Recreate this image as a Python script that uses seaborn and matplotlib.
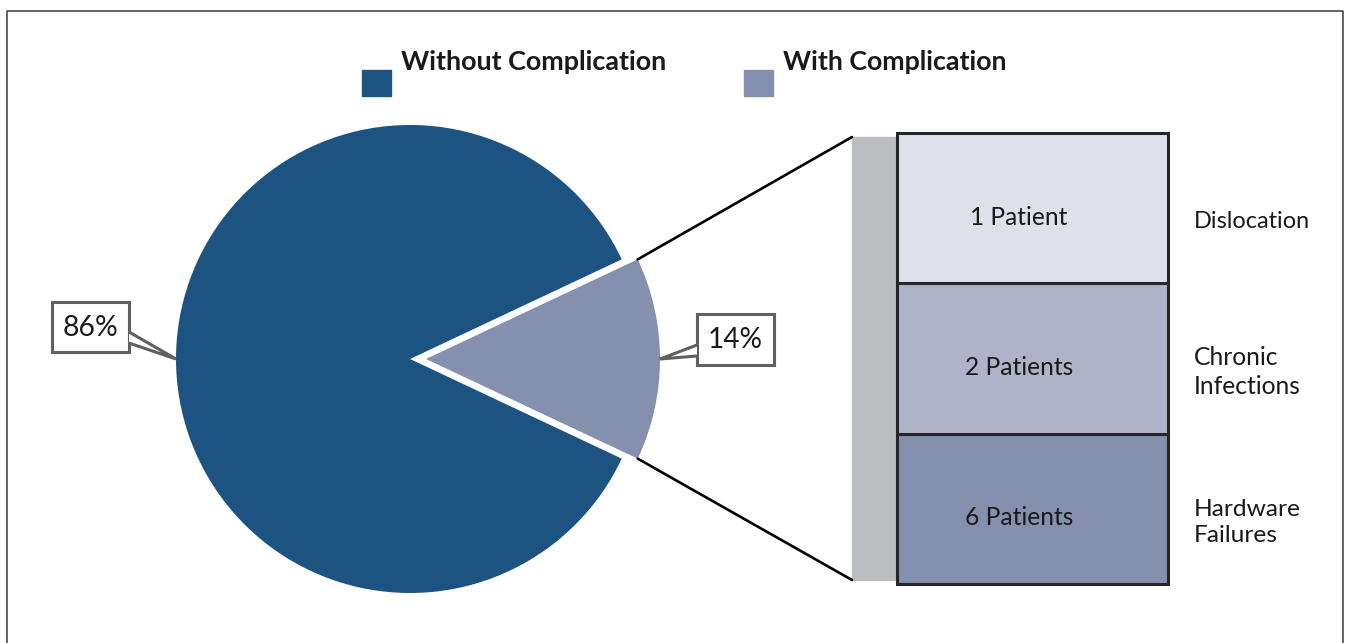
import numpy as np
import pandas as pd
import seaborn as sns
import matplotlib
matplotlib.use("Agg")
import matplotlib.pyplot as plt
from matplotlib.patches import Rectangle, Polygon

# ---------------- data ----------------
pie_labels = ["Without Complication", "With Complication"]
pie_values = [86, 14]
pie_pct_labels = ["86%", "14%"]
comp_types = ["Hardware\nFailures", "Chronic\nInfections", "Dislocation"]
comp_counts = [6, 2, 1]
comp_count_labels = ["6 Patients", "2 Patients", "1 Patient"]

# ---------------- style ----------------
sns.set_theme(style="white")
plt.rcParams['font.family'] = ['Lato', 'DejaVu Sans']
pie_colors = ["#1c5380", "#8490ae"]
comp_colors = ["#8490ae", "#aeb3c8", "#dee1e9"]
TXT = "#1a1a1a"

W, H = 1350, 643
fig = plt.figure(figsize=(13.5, 6.43), dpi=100)
ax = fig.add_axes([0, 0, 1, 1])

cx, cy, R = 410, 359, 234
wedges, _ = ax.pie(pie_values, colors=pie_colors, startangle=25.2,
                   explode=[0, 16], radius=R, center=(cx, cy),
                   wedgeprops=dict(linewidth=0))
ax.set_aspect('auto')
ax.set_xlim(0, W)
ax.set_ylim(H, 0)
ax.axis('off')

renderer = fig.canvas.get_renderer()

def fit(t, target):
    w = t.get_window_extent(renderer=renderer).width
    t.set_fontsize(t.get_fontsize() * target / w)

# frame
ax.plot([7, 7, 1343, 1343], [H + 5, 11, 11, H + 5], color="#3a3a3a", lw=1.1, clip_on=False)

# legend
leg_x = [362, 744]
for lab, col, x0 in zip(pie_labels, pie_colors, leg_x):
    ax.add_patch(Rectangle((x0, 70), 29, 26, color=col))
    t = ax.text(x0 + 39, 70, lab, fontsize=18, fontweight='bold', color=TXT,
                ha='left', va='baseline')
    fit(t, 267 if lab.startswith("Without") else 225)

# wedge geometry helpers
def wpt(w, ang):
    a = np.deg2rad(ang)
    return w.center[0] + w.r * np.cos(a), w.center[1] + w.r * np.sin(a)

big, small = wedges
big_tip = wpt(big, (big.theta1 + big.theta2) / 2)
small_tip = wpt(small, (small.theta1 + small.theta2) / 2)
small_top = wpt(small, small.theta1)
small_bot = wpt(small, small.theta2)

# callouts
EC = "#606060"
def callout(box, p_top, p_bot, tip, label, width):
    x0, y0, bw, bh = box
    ax.add_patch(Rectangle((x0, y0), bw, bh, fc='white', ec=EC, lw=2.2, zorder=5))
    ax.add_patch(Polygon([p_top, tip, p_bot], closed=False, fc='white', ec=EC,
                         lw=2.2, zorder=6, joinstyle='miter'))
    t = ax.text(x0 + bw / 2, y0 + bh / 2 + 1, label, fontsize=18, color=TXT,
                ha='center', va='center', zorder=7)
    fit(t, width)

callout((52, 302, 77, 50), (129, 332), (129, 343), big_tip, pie_pct_labels[0], 56)
callout((697, 314, 77, 51), (697, 345), (697, 356), small_tip, pie_pct_labels[1], 55)

# grey side panel and connector lines
ax.add_patch(Rectangle((852, 137), 44, 443, color="#bcbdc0", zorder=1))
ax.plot([small_top[0], 852], [small_top[1], 137], color="black", lw=1.9)
ax.plot([small_bot[0], 852], [small_bot[1], 580], color="black", lw=1.9)

# stacked breakdown bar (equal-height slots)
bax = fig.add_axes([897 / W, 1 - 584 / H, 271 / W, 451 / H])
slots = [1] * len(comp_counts)
bottoms = np.concatenate([[0], np.cumsum(slots)[:-1]])
bax.bar([0] * len(slots), slots, bottom=bottoms, width=1, color=comp_colors,
        edgecolor="#262626", linewidth=2.2, clip_on=False)
bax.set_xlim(-0.5, 0.5)
bax.set_ylim(0, sum(slots))
bax.axis('off')

for b, s, cl, ty in zip(bottoms, slots, comp_count_labels, comp_types):
    t = bax.text(-0.05, b + s / 2 - 0.06, cl, ha='center', va='center', fontsize=15, color=TXT)
    fit(t, 98 if cl == "1 Patient" else 109)
    t2 = bax.text(0.5 + 26 / 271, b + s / 2 - 0.09, ty, ha='left', va='center',
                  fontsize=15, color=TXT, linespacing=1.3)
    fit(t2, 116 if ty == "Dislocation" else 107)

fig.savefig("out.png", dpi=100)
